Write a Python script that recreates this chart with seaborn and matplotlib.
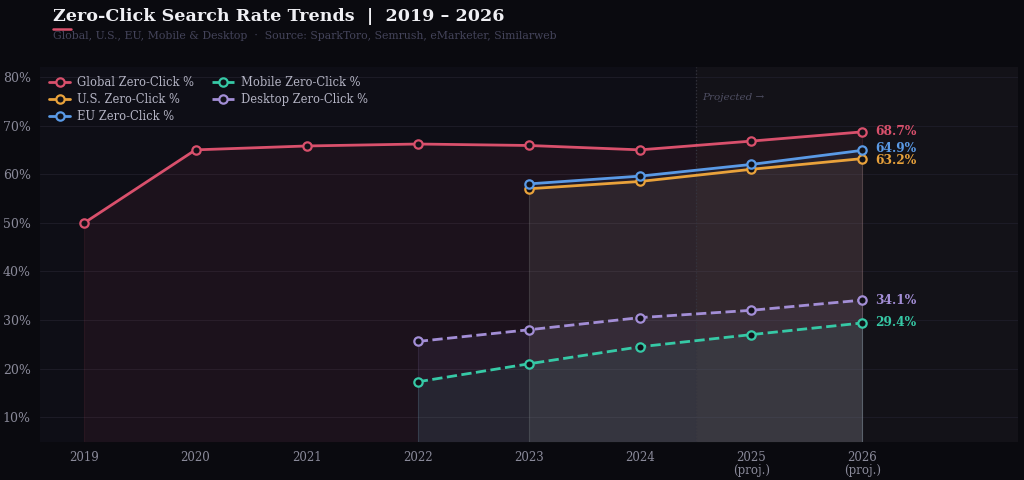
import numpy as np
import pandas as pd
import matplotlib
matplotlib.use("Agg")
import matplotlib.pyplot as plt
import seaborn as sns

years = [2019, 2020, 2021, 2022, 2023, 2024, 2025, 2026]
tick_labels = ["2019", "2020", "2021", "2022", "2023", "2024", "2025\n(proj.)", "2026\n(proj.)"]

global_years = [2019, 2020, 2021, 2022, 2023, 2024, 2025, 2026]
global_vals = [50.0, 65.0, 65.8, 66.2, 65.9, 65.0, 66.8, 68.7]
us_years = [2023, 2024, 2025, 2026]
us_vals = [57.0, 58.5, 61.0, 63.2]
eu_years = [2023, 2024, 2025, 2026]
eu_vals = [58.0, 59.6, 62.0, 64.9]
mobile_years = [2022, 2023, 2024, 2025, 2026]
mobile_vals = [17.3, 21.0, 24.5, 27.0, 29.4]
desktop_years = [2022, 2023, 2024, 2025, 2026]
desktop_vals = [25.6, 28.0, 30.5, 32.0, 34.1]

BG = "#0a0a0f"
AX_BG = "#0e0e16"
series = [
    ("Global Zero-Click %", global_years, global_vals, "#d9506c", "-"),
    ("U.S. Zero-Click %", us_years, us_vals, "#e9a23b", "-"),
    ("EU Zero-Click %", eu_years, eu_vals, "#5a9ae6", "-"),
    ("Mobile Zero-Click %", mobile_years, mobile_vals, "#36c9a6", "--"),
    ("Desktop Zero-Click %", desktop_years, desktop_vals, "#a38ed6", "--"),
]

sns.set_theme(style="dark")
plt.rcParams["font.family"] = ["DejaVu Serif"]

fig, ax = plt.subplots(figsize=(10.24, 4.8), dpi=100, facecolor=BG)
fig.subplots_adjust(left=0.039, right=0.994, top=0.86, bottom=0.08)
ax.set_facecolor(AX_BG)

y_min, y_max = 5, 82
ax.axvspan(2024.5, 2027.4, color="#131218", zorder=0, linewidth=0)

for name, xs, vs, col, ls in series:
    ax.fill_between(xs, vs, y_min, color=col, alpha=0.07, zorder=1, linewidth=0)
    ax.plot([xs[0], xs[0]], [y_min, vs[0]], color=col, alpha=0.12, lw=0.8, zorder=1)
    ax.plot([xs[-1], xs[-1]], [y_min, vs[-1]], color=col, alpha=0.12, lw=0.8, zorder=1)
    df = pd.DataFrame({"year": xs, "value": vs})
    sns.lineplot(data=df, x="year", y="value", ax=ax, color=col, linestyle=ls,
                 linewidth=2.0, marker="o", markersize=6, markerfacecolor="#111118",
                 markeredgecolor=col, markeredgewidth=1.6, label=name, zorder=3)

# end labels (EU / U.S. nudged apart a touch so they don't collide)
nudge = {"EU Zero-Click %": 0.45, "U.S. Zero-Click %": -0.45}
for name, xs, vs, col, ls in series:
    ax.text(xs[-1] + 0.12, vs[-1] + nudge.get(name, 0), f"{vs[-1]:.1f}%", color=col,
            fontsize=8.8, fontweight="bold", va="center", ha="left", zorder=4)

ax.axvline(2024.5, color="#34343f", lw=0.9, ls=":", zorder=1)
ax.text(2024.56, 75.8, "Projected →", color="#4e4e62", fontsize=7.5, style="italic",
        va="center", ha="left")

ax.set_xlim(2018.6, 2027.4)
ax.set_ylim(y_min, y_max)
ax.set_xticks(years)
ax.set_xticklabels(tick_labels, linespacing=1.05)
ax.set_yticks(np.arange(10, 81, 10))
ax.set_yticklabels([f"{v}%" for v in range(10, 81, 10)])
ax.set_xlabel("")
ax.set_ylabel("")
ax.tick_params(colors="#8a8a9a", labelsize=9, length=3, width=0.8)
ax.tick_params(axis="x", colors="#7a7a8c", labelcolor="#8a8a9a", labelsize=8.5)
ax.grid(axis="y", color="#1c1b26", lw=0.8)
ax.grid(axis="x", visible=False)
for s in ax.spines.values():
    s.set_visible(False)

leg = ax.legend(loc="upper left", ncol=2, frameon=False, fontsize=8.3,
                labelcolor="#b4b4c4", handlelength=1.9, handletextpad=0.6,
                columnspacing=1.5, borderaxespad=0.35, labelspacing=0.35)

fig.text(0.052, 0.966, "Zero-Click Search Rate Trends  |  2019 – 2026", color="#f0f0f4",
         fontsize=12.6, fontweight="bold", va="center", ha="left")
fig.text(0.052, 0.925, "Global, U.S., EU, Mobile & Desktop  ·  Source: SparkToro, Semrush, eMarketer, Similarweb",
         color="#44445a", fontsize=7.8, va="center", ha="left")
fig.add_artist(plt.Line2D([0.052, 0.069], [0.94, 0.94], color="#d9506c", lw=1.8,
                          transform=fig.transFigure))

fig.savefig("out.png", dpi=100, facecolor=BG)
